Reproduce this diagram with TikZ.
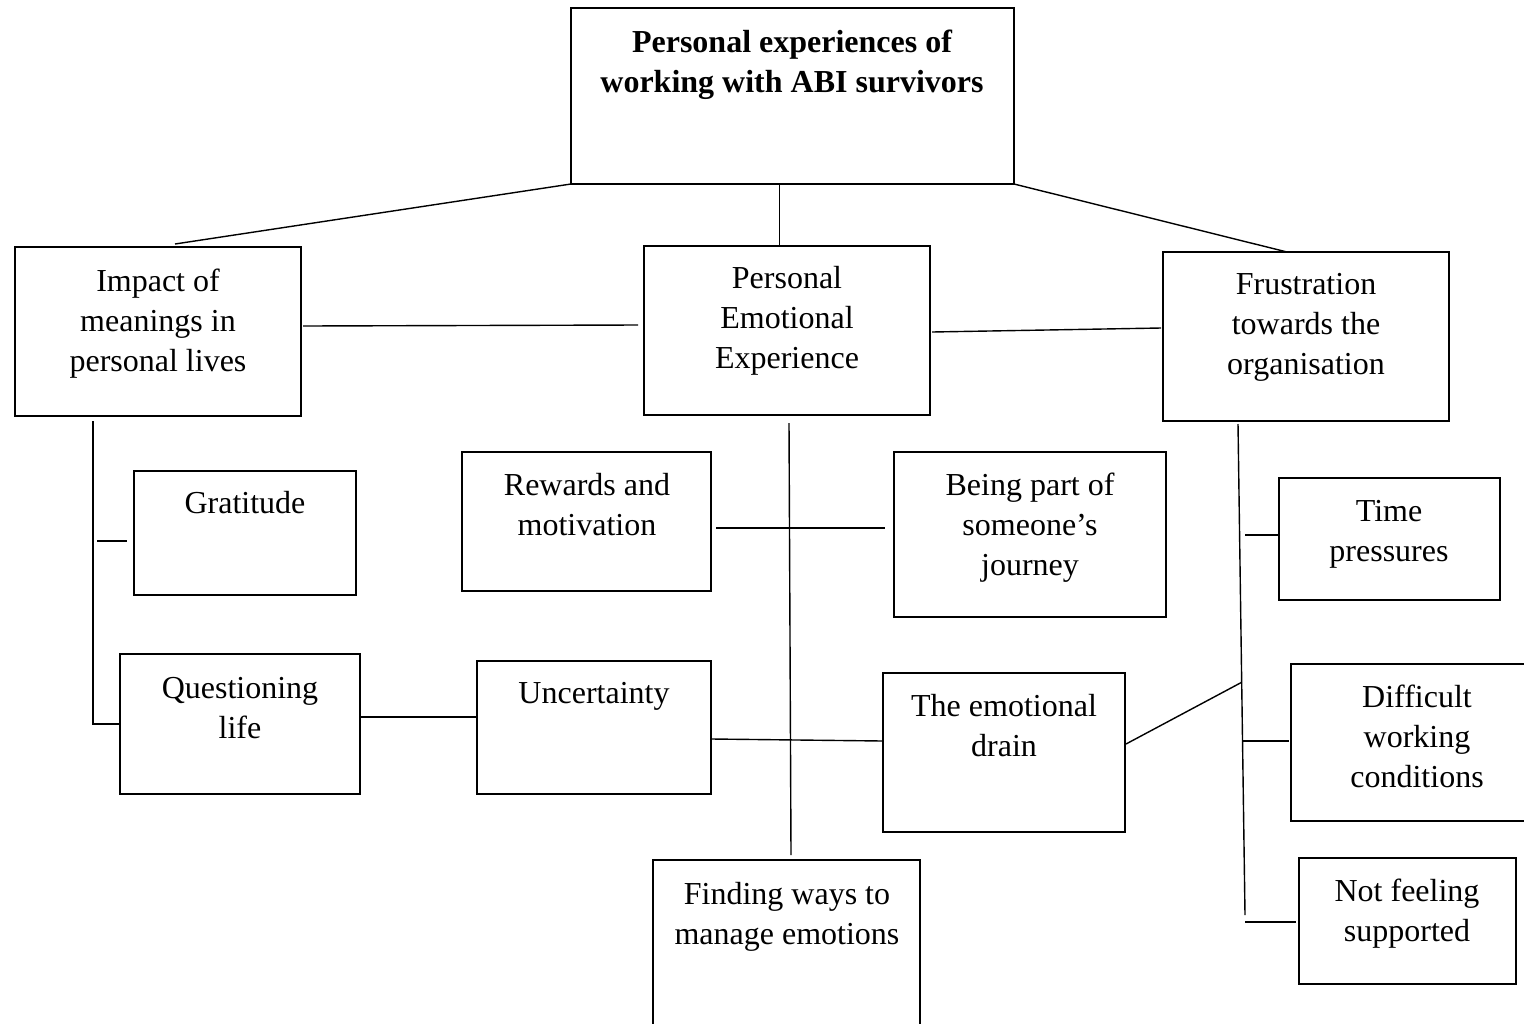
\documentclass[tikz,border=0pt]{standalone}
\usepackage{fontspec}
\setmainfont{Liberation Serif}
\usetikzlibrary{calc}
\newcommand\st{\rule{0pt}{11.2pt}}
\newcommand\mybox[5]{\node[box, minimum width={(#4-#2)*0.5pt}, minimum height={(#5-#3)*0.5pt}] (#1) at ({(#2+#4)/2},{(#3+#5)/2}) {};}
\tikzset{
  box/.style={draw, line width=1.2pt, inner sep=0pt, outer sep=0pt, rectangle},
  txt/.style={anchor=north, inner sep=0pt, align=center, font=\fontsize{16}{20}\selectfont},
  conn/.style={line width=0.7pt}
}
\begin{document}
\begin{tikzpicture}[x=0.5pt, y=-0.5pt]
\useasboundingbox (0,0) rectangle (1524,1023);
% boxes
\mybox{top}{571}{8}{1014}{184}
\mybox{imp}{15}{247}{301}{416}
\mybox{pe}{644}{246}{930}{415}
\mybox{fr}{1163}{252}{1449}{421}
\mybox{gr}{134}{471}{356}{595}
\mybox{rw}{462}{452}{711}{591}
\mybox{bp}{894}{452}{1166}{617}
\mybox{tp}{1279}{478}{1500}{600}
\mybox{q}{120}{654}{360}{794}
\mybox{un}{477}{661}{711}{794}
\mybox{ed}{883}{673}{1125}{832}
\mybox{dw}{1291}{664}{1543}{821}
\mybox{fi}{653}{860}{920}{1060}
\mybox{nf}{1299}{858}{1516}{984}
% texts
\node[txt, font=\fontsize{16}{20}\selectfont\bfseries] (topt) at (792,30) {\st Personal experiences of\\working with ABI survivors};
\node[txt] (impt) at (158,269) {\st Impact of\\meanings in\\personal lives};
\node[txt] (pet) at (787,266) {\st Personal\\Emotional\\Experience};
\node[txt] (frt) at (1306,272) {\st Frustration\\towards the\\organisation};
\node[txt] (grt) at (245,491) {\st Gratitude};
\node[txt] (rwt) at (587,473) {\st Rewards and\\motivation};
\node[txt] (bpt) at (1030,473) {\st Being part of\\someone’s\\journey};
\node[txt] (tpt) at (1389,499) {\st Time\\pressures};
\node[txt] (qt) at (240,676) {\st Questioning\\life};
\node[txt] (unt) at (594,681) {\st Uncertainty};
\node[txt] (edt) at (1004,694) {\st The emotional\\drain};
\node[txt] (dwt) at (1417,685) {\st Difficult\\working\\conditions};
\node[txt] (fit) at (787,882) {\st Finding ways to\\manage emotions};
\node[txt] (nft) at (1407,879) {\st Not feeling\\supported};
% connectors
\draw[conn] (top.south west) -- ($(imp.north)+(17,-3)$);
\draw[conn] ($(top.south)+(-13,0)$) coordinate (c1) -- (c1 |- pe.north);
\draw[conn] (top.south east) -- ($(fr.north)+(-19,0)$);
\draw[conn] ($(imp.east)+(2,-5.5)$) -- ($(pe.west)+(-6,-5.5)$);
\draw[conn] ($(pe.east)+(2,1.5)$) -- ($(fr.west)+(-2,-8.5)$);
\draw[conn] ($(imp.south west)+(78,5)$) |- (q.west);
\draw[conn] ($(gr.west)+(-37,8)$) -- ($(gr.west)+(-7,8)$);
\draw[conn] ($(rw.east)+(5,6.5)$) -- ($(bp.west)+(-9,-6.5)$);
\draw[conn] ($(pe.south)+(2,8)$) -- ($(fi.north)+(4.5,-5)$);
\draw[conn] ($(q.east)+(1,-7)$) -- ($(un.west)+(0,-10.5)$);
\draw[conn] ($(un.east)+(1,11.5)$) -- ($(ed.west)+(0,-11.5)$);
\coordinate (fv1) at ($(fr.south)+(-68,3)$);
\coordinate (fv2) at ($(fr.south)+(-61,494)$);
\draw[conn] (fv1) -- (fv2);
\coordinate (fd) at ($(fv1)!0.526!(fv2)$);
\draw[conn] ($(ed.east)+(1,-8.5)$) -- (fd);
\draw[conn] ($(tp.west)+(-34,-4)$) -- (tp.west |- 0,535);
\draw[conn] ($(dw.west)+(-48,-1.5)$) -- ($(dw.west)+(-2,-1.5)$);
\draw[conn] ($(nf.west)+(-54,1)$) -- ($(nf.west)+(-3,1)$);
\end{tikzpicture}
\end{document}
